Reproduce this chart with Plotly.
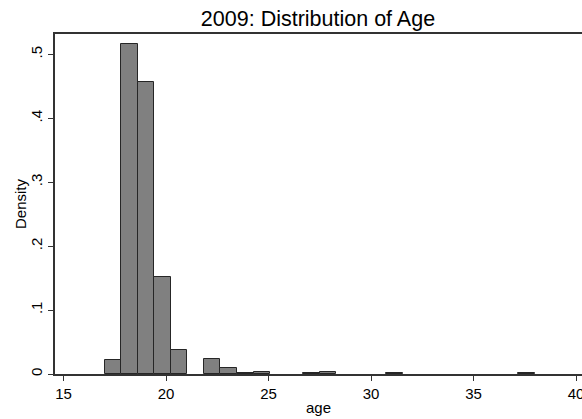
import plotly.graph_objects as go

# Histogram bins (left edges) and density heights
bin_left = [17.000, 17.808, 18.615, 19.423, 20.231, 21.038, 21.846, 22.654,
            23.462, 24.269, 25.077, 25.885, 26.692, 27.500, 28.308, 29.115,
            29.923, 30.731, 31.538, 32.346, 33.154, 33.962, 34.769, 35.577,
            36.385, 37.192]
bin_width = 0.8077
density = [0.0213, 0.5156, 0.4570, 0.1520, 0.0380, None, 0.0234, 0.0094,
           0.0018, 0.0036, None, None, 0.0018, 0.0036, None, None,
           None, 0.0018, None, None, None, None, None, None,
           None, 0.0018]

x_ticks = [15, 20, 25, 30, 35, 40]
y_ticks = [0, 0.1, 0.2, 0.3, 0.4, 0.5]
y_tick_labels = ["0", ".1", ".2", ".3", ".4", ".5"]

centers = [b + bin_width / 2 for b in bin_left]

fig = go.Figure(go.Bar(
    x=centers, y=density, width=[bin_width] * len(centers),
    marker=dict(color="#808080", line=dict(color="#262626", width=1)),
    hoverinfo="x+y",
))

font = "Liberation Sans, Arial, sans-serif"
fig.update_layout(
    width=582, height=419,
    margin=dict(l=55, r=0, t=34, b=45, autoexpand=False),
    paper_bgcolor="white", plot_bgcolor="white",
    showlegend=False,
    bargap=0,
    font=dict(family=font, size=15, color="#000000"),
    title=dict(text="2009: Distribution of Age", x=0.5464, xanchor="center",
               xref="container", y=0.956, yanchor="middle", yref="container",
               font=dict(family=font, size=21.5, color="#000000")),
    annotations=[dict(text="Density", xref="paper", yref="paper",
                      x=-0.0664, y=0.5, xanchor="center", yanchor="middle",
                      textangle=-90, showarrow=False, font=dict(size=15))],
)
fig.update_xaxes(
    range=[14.585, 40.29], tickvals=x_ticks, ticks="outside", ticklen=5,
    tickcolor="#333333", showline=True, linecolor="#333333", linewidth=1.5,
    mirror=True, showgrid=False, zeroline=False, automargin=False,
    ticklabeloverflow="allow",
    tickfont=dict(size=15), title=dict(text="age", font=dict(size=15), standoff=2),
)
fig.update_yaxes(
    range=[0, 0.532], tickvals=y_ticks, ticktext=y_tick_labels, tickangle=-90,
    ticks="outside", ticklen=5, tickcolor="#333333", showline=True,
    linecolor="#333333", linewidth=1.5, showgrid=False, zeroline=False,
    automargin=False, tickfont=dict(size=15),
)

fig.write_html("out.html", config={"displayModeBar": False},
               post_script="document.body.style.margin='0';document.body.style.overflow='hidden';")
